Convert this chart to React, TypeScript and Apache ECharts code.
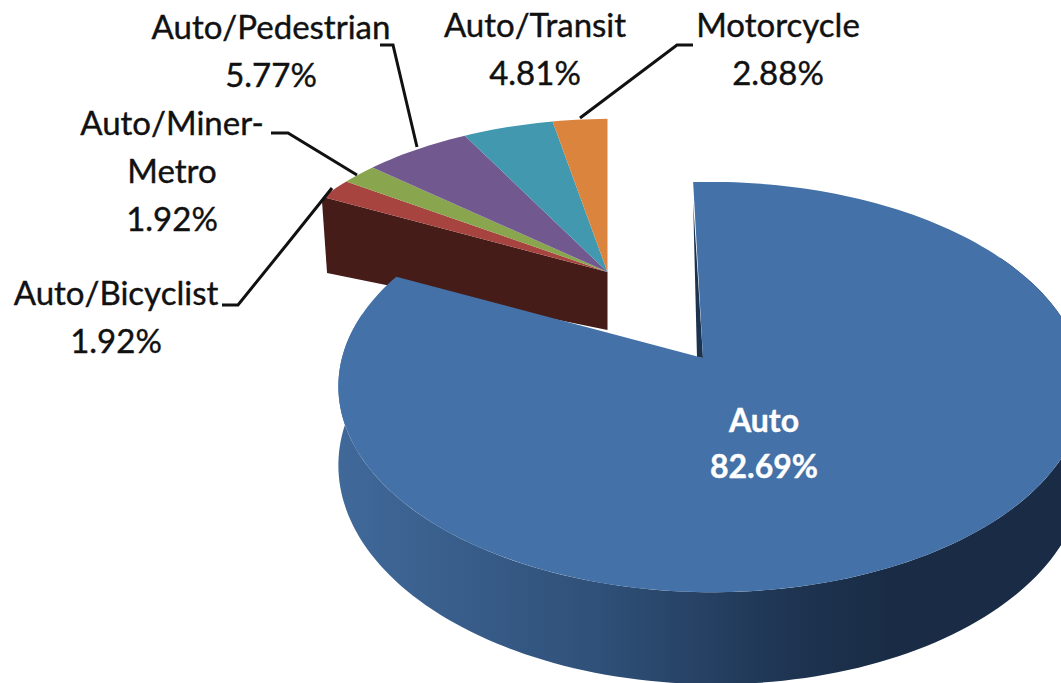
import React, { useEffect, useRef } from "react";
import * as echarts from "echarts";

const categories = ["Auto", "Auto/Bicyclist", "Auto/Miner-Metro", "Auto/Pedestrian", "Auto/Transit", "Motorcycle"];
const values = [82.69, 1.92, 1.92, 5.77, 4.81, 2.88];
const colors = ["#4471A7", "#A8443F", "#89A54E", "#71588F", "#4198AF", "#DB843D"];
const labelLines = [
  ["Auto", "82.69%"],
  ["Auto/Bicyclist", "1.92%"],
  ["Auto/Miner-", "Metro", "1.92%"],
  ["Auto/Pedestrian", "5.77%"],
  ["Auto/Transit", "4.81%"],
  ["Motorcycle", "2.88%"],
];
const labelCentres = [[764, 442], [116, 316], [172, 170], [271, 50], [535, 48], [778, 48]];
const leaders = [
  [],
  [[222, 305], [238, 305], [288, 243], [332, 188]],
  [[271, 133], [288, 133], [357, 175]],
  [[380, 45], [393, 45], [417, 147]],
  [],
  [[693, 45], [677, 45], [580, 118]],
];

const total = values.reduce((a, b) => a + b, 0);
const startAngles: number[] = [];
values.reduce((acc, v, i) => {
  startAngles[i] = (acc / total) * 360;
  return acc + v;
}, 0);

const A = 369, B = 201, P = 0.1415, Q = -0.022;
const bigGeom = { x0: 703, y0: 358, sx: 1, sy: 1, rot: -1.75 };
const smallGeom = { x0: 607.5, y0: 272, sx: 0.945, sy: 0.87, rot: 0 };
const DEPTH = 79;

function rim(g: typeof bigGeom, deg: number, drop = 0) {
  const t = ((deg + g.rot) * Math.PI) / 180;
  const X = Math.sin(t), Y = Math.cos(t);
  const s = 1 / (1 + P * Y + Q * X);
  return [g.x0 + g.sx * A * X * s, g.y0 - g.sy * B * Y * s + drop * s];
}
function arc(g: typeof bigGeom, from: number, to: number, drop = 0) {
  const n = Math.max(2, Math.ceil(Math.abs(to - from) / 1.5));
  const pts: number[][] = [];
  for (let i = 0; i <= n; i++) pts.push(rim(g, from + ((to - from) * i) / n, drop));
  return pts;
}

const renderSlice = (params: any, api: any) => {
  const i = api.value(0);
  const value = api.value(1);
  const from = startAngles[i];
  const to = from + (value / total) * 360;
  const children: any[] = [];
  if (i === 0) {
    const g = bigGeom;
    const wallFill = new echarts.graphic.LinearGradient(338, 0, 1061, 0, [
      { offset: 0, color: "#40699A" },
      { offset: 0.36, color: "#2F5078" },
      { offset: 0.64, color: "#1D3350" },
      { offset: 0.76, color: "#1A2C45" },
      { offset: 1, color: "#1A2C45" },
    ], true);
    children.push({
      type: "polygon",
      shape: { points: [...arc(g, 60, 285), ...arc(g, 285, 60, DEPTH)] },
      style: { fill: wallFill },
    });
    const tip = rim(g, from);
    children.push({
      type: "polygon",
      shape: { points: [[tip[0], tip[1] + 20], [g.x0, g.y0], [g.x0 - 6, g.y0 - 1]] },
      style: { fill: "#1C3350" },
    });
    children.push({
      type: "polygon",
      shape: { points: [[g.x0, g.y0], ...arc(g, from, to)] },
      style: { fill: colors[i] },
    });
  } else {
    const g = smallGeom;
    if (i === 1) {
      const c = rim(g, from);
      children.push({
        type: "polygon",
        shape: {
          points: [[g.x0, g.y0], c, [c[0] - 1, c[1] + 5], [c[0] + 4, c[1] + 76], [g.x0, g.y0 + 58]],
        },
        style: { fill: "#451C18" },
      });
    }
    children.push({
      type: "polygon",
      shape: { points: [[g.x0, g.y0], ...arc(g, from, to)] },
      style: { fill: colors[i] },
    });
  }
  return { type: "group", children };
};

const drawOrder = [1, 2, 3, 4, 5, 0];

export default function App() {
  const ref = useRef<HTMLDivElement>(null);
  useEffect(() => {
    const chart = echarts.init(ref.current!, undefined, { renderer: "svg" });
    const textEls = categories.map((name, i) => ({
      type: "text",
      x: labelCentres[i][0],
      y: labelCentres[i][1],
      z: 10,
      style: {
        text: labelLines[i].join("\n"),
        fontFamily: "Lato",
        fontSize: i === 0 ? 32 : 33,
        fontWeight: i === 0 ? "bold" : "normal",
        lineHeight: i === 0 ? 46 : 48,
        fill: i === 0 ? "#ffffff" : "#111111",
        stroke: i === 0 ? "#ffffff" : "#111111",
        lineWidth: 0.4,
        align: "center",
        verticalAlign: "middle",
      },
    }));
    const lineEls = leaders
      .filter((l) => l.length > 0)
      .map((pts) => ({
        type: "polyline",
        z: 9,
        shape: { points: pts },
        style: { stroke: "#111111", lineWidth: 3, fill: "none" },
      }));
    chart.setOption({
      animation: false,
      backgroundColor: "#ffffff",
      series: [
        {
          type: "custom",
          coordinateSystem: "none",
          renderItem: renderSlice,
          silent: true,
          data: drawOrder.map((i) => ({ name: categories[i], value: [i, values[i]] })),
        },
      ],
      graphic: { elements: [...lineEls, ...textEls] },
    });
    return () => chart.dispose();
  }, []);
  return <div ref={ref} style={{ position: "absolute", left: 0, top: 0, width: 1061, height: 683 }} />;
}
